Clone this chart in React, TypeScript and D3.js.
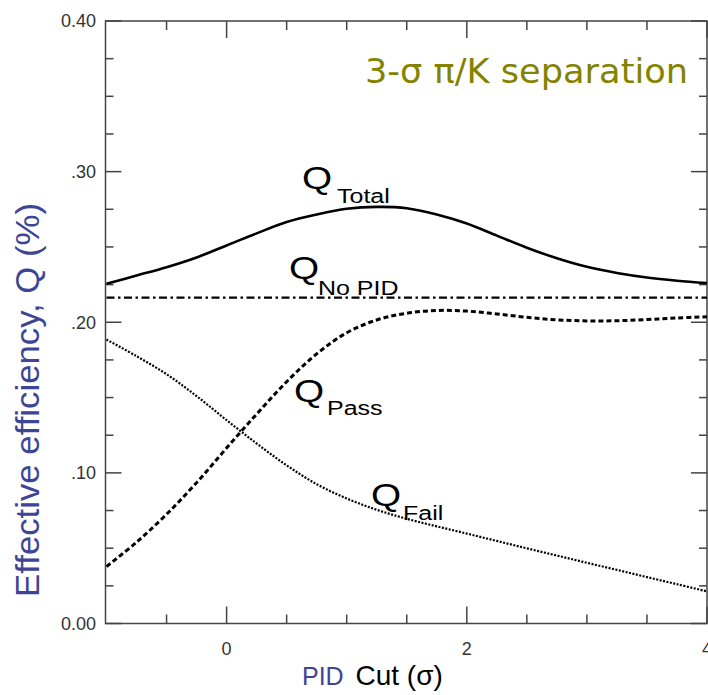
import React from "react";
import * as d3 from "d3";

const cutValues = [-1, -0.75, -0.5, -0.25, 0, 0.25, 0.5, 0.75, 1, 1.25, 1.5, 1.75, 2, 2.25, 2.5, 2.75, 3, 3.25, 3.5, 3.75, 4];
const qTotal = [0.2255, 0.231, 0.2365, 0.243, 0.251, 0.259, 0.2665, 0.2715, 0.2753, 0.2766, 0.2757, 0.2715, 0.2655, 0.2575, 0.2495, 0.2425, 0.2368, 0.2327, 0.2297, 0.2276, 0.226];
const qPass = [0.0378, 0.054, 0.0725, 0.0935, 0.1165, 0.139, 0.1605, 0.179, 0.193, 0.2015, 0.206, 0.2078, 0.2074, 0.2055, 0.2033, 0.2016, 0.2009, 0.201, 0.2018, 0.2028, 0.2037];
const qFail = [0.1885, 0.1775, 0.1655, 0.151, 0.135, 0.1195, 0.105, 0.0925, 0.083, 0.0755, 0.0695, 0.0645, 0.0597, 0.0548, 0.0499, 0.0451, 0.0403, 0.0356, 0.0308, 0.0261, 0.0213];
const noPidCut = [-1, 4];
const qNoPid = [0.2163, 0.2163];

const yMajorTicks = [0, 0.1, 0.2, 0.3, 0.4];
const yTickLabels = ["0.00", ".10", ".20", ".30", "0.40"];
const xMajorTicks = [0, 2, 4];
const xTickLabels = ["0", "2", "4"];

const W = 708;
const H = 695;
const left = 105.5;
const right = 707;
const top = 21;
const bottom = 623.5;

export default function App() {
  const x = d3.scaleLinear().domain([-1, 4]).range([left + 1, right]);
  const y = d3.scaleLinear().domain([0, 0.4]).range([bottom, top]);

  const line = d3
    .line<[number, number]>()
    .x((d) => x(d[0]))
    .y((d) => y(d[1]))
    .curve(d3.curveCatmullRom.alpha(0.5));

  const pts = (vals: number[], xs: number[] = cutValues) => xs.map((c, i) => [c, vals[i]] as [number, number]);

  const yMinor = d3.range(0, 0.4001, 0.025).filter((v) => !yMajorTicks.some((m) => Math.abs(m - v) < 1e-6));
  const xMinor = d3.range(-0.5, 4, 0.5).filter((v) => !xMajorTicks.some((m) => Math.abs(m - v) < 1e-6));

  const axisColor = "#444";
  const labelColor = "#333";
  const blue = "#3d4596";

  const qLabel = (x0: number, qBase: number, subX: number, subBase: number, sub: string) => (
    <g transform={`translate(${x0},0) scale(1.25,1)`} fontFamily="'Liberation Sans', Arial, sans-serif" fill="#000">
      <text x={0} y={qBase} fontSize={31}>Q</text>
      <text x={(subX - x0) / 1.25} y={subBase} fontSize={20}>{sub}</text>
    </g>
  );

  return (
    <svg width={W} height={H} style={{ position: "absolute", left: 0, top: 0, background: "#fff" }}>
      <rect width={W} height={H} fill="#fff" />
      {/* frame */}
      <rect x={left} y={top} width={right - left} height={bottom - top} fill="none" stroke={axisColor} strokeWidth={1.5} />
      {/* y ticks */}
      {yMajorTicks.map((v) => (
        <g key={"ym" + v}>
          <line x1={left} x2={left + 16} y1={y(v)} y2={y(v)} stroke={axisColor} strokeWidth={1.5} />
          <line x1={right} x2={right - 16} y1={y(v)} y2={y(v)} stroke={axisColor} strokeWidth={1.5} />
        </g>
      ))}
      {yMinor.map((v) => (
        <g key={"yn" + v}>
          <line x1={left} x2={left + 8} y1={y(v)} y2={y(v)} stroke={axisColor} strokeWidth={1.5} />
          <line x1={right} x2={right - 8} y1={y(v)} y2={y(v)} stroke={axisColor} strokeWidth={1.5} />
        </g>
      ))}
      {/* x ticks */}
      {xMajorTicks.map((v) => (
        <g key={"xm" + v}>
          <line x1={x(v)} x2={x(v)} y1={bottom} y2={bottom - 17} stroke={axisColor} strokeWidth={1.5} />
          <line x1={x(v)} x2={x(v)} y1={top} y2={top + 17} stroke={axisColor} strokeWidth={1.5} />
        </g>
      ))}
      {xMinor.map((v) => (
        <g key={"xn" + v}>
          <line x1={x(v)} x2={x(v)} y1={bottom} y2={bottom - 9} stroke={axisColor} strokeWidth={1.5} />
          <line x1={x(v)} x2={x(v)} y1={top} y2={top + 9} stroke={axisColor} strokeWidth={1.5} />
        </g>
      ))}
      {/* tick labels */}
      <g fontFamily="'Liberation Sans', Arial, sans-serif" fontSize={18} fill={labelColor}>
        {yMajorTicks.map((v, i) => (
          <text key={"yl" + v} x={96} y={y(v)} dy="0.36em" textAnchor="end">
            {yTickLabels[i]}
          </text>
        ))}
        {xMajorTicks.map((v, i) => (
          <text key={"xl" + v} x={x(v)} y={655} textAnchor="middle">
            {xTickLabels[i]}
          </text>
        ))}
      </g>
      {/* curves */}
      <path d={line(pts(qTotal)) || ""} fill="none" stroke="#000" strokeWidth={2.6} />
      <path d={line(pts(qNoPid, noPidCut)) || ""} fill="none" stroke="#000" strokeWidth={2.2} strokeDasharray="8,3.5,2.5,3.5" />
      <path d={line(pts(qPass)) || ""} fill="none" stroke="#000" strokeWidth={3} strokeDasharray="5,3" />
      <path d={line(pts(qFail)) || ""} fill="none" stroke="#000" strokeWidth={2.2} strokeDasharray="2,1.5" />
      {/* curve labels */}
      {qLabel(302, 189, 337, 203, "Total")}
      {qLabel(289, 279, 318, 295, "No PID")}
      {qLabel(294, 402, 327, 415, "Pass")}
      {qLabel(371, 506, 403, 520, "Fail")}
      {/* title */}
      <text x={365} y={83} fontFamily="'DejaVu Sans', sans-serif" fontSize={34} fill="#838300" textLength={323} lengthAdjust="spacingAndGlyphs">
        3-σ π/K separation
      </text>
      {/* axis titles */}
      <text
        transform="translate(39,400) rotate(-90)"
        textAnchor="middle"
        fontFamily="'Liberation Sans', Arial, sans-serif"
        fontSize={34}
        fill={blue}
        textLength={394}
        lengthAdjust="spacingAndGlyphs"
      >
        Effective efficiency, Q (%)
      </text>
      <text x={302} y={685} fontFamily="'Liberation Sans', Arial, sans-serif">
        <tspan fontSize={25} fill={blue}>PID</tspan>
        <tspan fontSize={28} fill="#000" dx={4}> Cut (σ)</tspan>
      </text>
    </svg>
  );
}
